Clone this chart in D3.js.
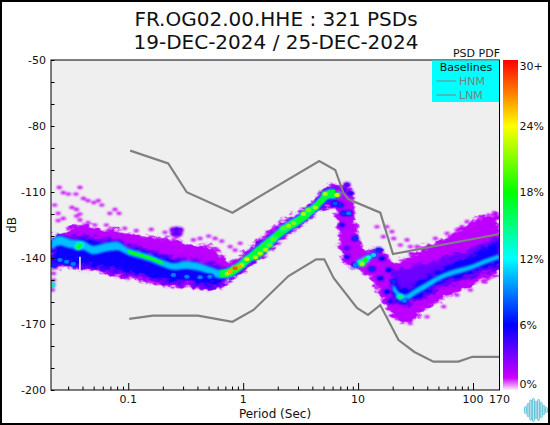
<!DOCTYPE html>
<html><head><meta charset="utf-8">
<style>html,body{margin:0;padding:0;background:#fff}svg{display:block}text{font-family:"DejaVu Sans",sans-serif;fill:#111}</style>
<script src="https://cdn.jsdelivr.net/npm/d3@7"></script></head><body><svg id="c" width="550" height="425"></svg>
<script>
const titleLines=["FR.OG02.00.HHE : 321 PSDs","19-DEC-2024 / 25-DEC-2024"];
const xTicks=[0.1,1,10,100,170];
const yLabelTicks=[-50,-80,-110,-140,-170,-200];
const barLabels=[["30+",29.5],["24%",24],["18%",18],["12%",12],["6%",6],["0%",0.6]];
const pctStops=[0,1.2,6,12,18,24,30];
const pctColors=["#ffffff","#cc00ff","#0000ff","#00ffff","#00ff00","#ffff00","#ff0000"];

const hnmPeriod=[0.104,0.223,0.323,0.807,4.59,6.33,7.48,8.26,15.6,20.1,170];
const hnmDb=[-91.2,-97,-110.1,-119.4,-95.9,-100,-110.6,-113.3,-119.4,-138.2,-129.1];
const lnmPeriod=[0.102,0.164,0.405,0.807,1.23,2.48,4.32,5.08,6.12,9.78,12.2,15.6,22.5,30.9,45.2,74.6,98.8,170];
const lnmDb=[-167.7,-166.2,-166.2,-169,-163.6,-148.2,-140.6,-140.6,-149.1,-162.7,-165.9,-161.4,-177.3,-182.7,-187.1,-187.1,-184.9,-184.9];

const logPeriod=[-1.67,-1.6,-1.5,-1.4,-1.3,-1.2,-1.1,-1,-0.9,-0.8,-0.7,-0.6,-0.5,-0.4,-0.3,-0.2,-0.1,0,0.1,0.2,0.3,0.4,0.5,0.6,0.7,0.75,0.8,0.85,0.9,0.95,1,1.1,1.2,1.3,1.4,1.5,1.6,1.7,1.8,1.9,2,2.1,2.23];
const purpleTop=[-131.1,-129.1,-126.1,-124.2,-125.8,-126.8,-127.3,-128.8,-129.8,-130.3,-130.8,-131.8,-133.6,-134.1,-134.1,-137.9,-141.7,-137.9,-133.6,-128.8,-125,-121.2,-117.9,-114.4,-108.3,-106.4,-106.8,-107.3,-106.1,-109.1,-130.3,-136.4,-135.2,-141.7,-140.2,-137.1,-134.1,-132.6,-129.5,-125.8,-123.5,-120.5,-119.7];
const purpleBottom=[-145.5,-144.8,-144.7,-145.2,-146.2,-147.3,-148.5,-149.2,-150.3,-151.8,-153,-153.3,-153,-154.2,-154.5,-154.2,-150,-146.7,-142.4,-137.9,-134.1,-129.5,-125.8,-121.2,-117.9,-117,-118.9,-136.4,-143.2,-144.7,-146.2,-148.5,-158.3,-166.7,-169.7,-167.4,-162.9,-159.8,-156.8,-154.5,-152.3,-150,-147];
const violetTop=[null,null,null,null,null,null,null,null,null,null,null,null,null,null,null,null,null,null,null,null,null,null,null,null,null,null,null,null,null,null,null,null,null,-145.5,-144.7,-143.2,-142.4,-140.9,-138.6,-137.1,-135.6,-133.3,-131.1];
const violetBottom=[null,null,null,null,null,null,null,null,null,null,null,null,null,null,null,null,null,null,null,null,null,null,null,null,null,null,null,null,null,null,null,null,null,-160,-161,-159.5,-157.5,-154,-152,-150.5,-148.5,-146.5,-144.5];
const blueTop=[-132.6,-130,-131.1,-130,-131.5,-131.8,-132.1,-134.1,-135.6,-137.1,-138.6,-140.2,-141.2,-141.7,-142.7,-144.7,-145.2,-140.9,-136.4,-131.8,-128,-123.9,-120.5,-116.7,-110.6,-108.8,-109.1,null,null,null,null,null,null,-147,-152.3,-150.8,-147,-144.7,-141.7,-139.7,-137.6,-134.1,-131.1];
const blueBottom=[-142.9,-143.2,-143.2,-143.9,-144.4,-145.5,-146.2,-147,-148.2,-149.2,-150.8,-151.2,-150.8,-152.3,-153.3,-152.3,-148.2,-144.7,-140.2,-135.6,-131.5,-127.3,-123.5,-119.4,-116.7,-115.2,-115.2,null,null,null,null,null,null,-159.8,-160.6,-159.1,-156.8,-153,-150.8,-149.2,-147.3,-145.5,-143.2];
const ridgeDb=[-134.1,-132.1,-133.6,-134.1,-136.4,-135.2,-134.5,-137.1,-138.6,-140.2,-142.4,-143.9,-143.2,-143.9,-145.5,-147.3,-146.2,-142.4,-137.9,-133.6,-129.5,-125.5,-122.4,-118.2,-112.9,-110.9,-110.9,null,null,null,null,null,null,-153,-158.3,-155.3,-152.3,-149.2,-147,-145.5,-143.9,-141.7,-139.4];
const cyanHalf=[2.2,2.2,2,2,2,2,2,1.6,1.6,1.6,1.6,1.6,1.8,1.8,1.8,2,2.4,2.4,2.4,2.4,2.4,2.4,2.4,2.4,2.4,2.4,2.4,null,null,null,null,null,null,1.5,1.5,1.4,1.4,1.2,1.2,1.2,1.1,1.1,1.1];
const greenHalf=[null,null,null,null,null,null,null,0.8,0.8,0.8,0.8,null,null,null,null,1.7,1.8,1.8,1.8,1.8,1.8,1.8,1.8,1.8,1.8,1.8,1.8,null,null,null,null,null,null,null,null,null,null,null,null,null,null,null,null];

// [log10 period, dB, percent]
const hotSpots=[[-1.42,-134.1,17],[-1.435,-135.2,16],[-1.594,-140.9,9],[-1.536,-141.7,9],[-1.478,-142.7,9],[-1.65,-143.2,7],[-1.667,-152.3,14],[-0.607,-147.7,9],[-0.49,-148.5,9],[-0.375,-148.8,9],[-0.29,-148.5,9],[-0.14,-147,22],[-0.113,-146.2,26],[-0.07,-144.7,28],[-0.032,-143.9,26],[-0.011,-143.2,22],[0.032,-140.6,23],[0.105,-139.7,22],[0.148,-137.9,22],[0.192,-136.1,22],[0.23,-134.1,20],[0.264,-131.5,20],[0.351,-126.5,20],[0.395,-125.5,22],[0.439,-124.2,21],[0.526,-120,22],[0.569,-118.2,21],[0.627,-117,22],[0.714,-110.9,22],[0.816,-111.4,23],
[0.903,-106.8,4],[0.932,-110.6,5],[0.874,-109.1,4],[0.845,-115.9,7],[0.8,-115.2,8],[0.918,-119.7,9],[0.874,-119.7,7],[0.86,-125,5],[0.976,-131.1,7],[0.903,-135.6,4],[0.903,-139.4,5],[0.976,-143.2,9],[1.034,-142.7,22],[1.063,-140.9,18],[1.019,-141.7,14],[1.092,-139.7,13],[1.135,-138.6,11],[1.179,-136.4,7],[1.121,-145,7],[1.194,-149.2,6],[1.208,-140.2,6],[1.266,-145.5,6],[1.31,-150.8,7],[1.252,-155.3,6],[1.28,-159.8,5],[1.368,-157.6,16],[1.403,-159.4,9],[-0.58,-127,4],[-0.58,-128.8,4],[-0.607,-127.3,3],[-0.55,-127.3,3],[-0.6,-129,3],[-0.56,-129,3]];
// [log10 period, dB]
const specks=[[-1.6,-107.9],[-1.42,-107.9],[-1.565,-110.3],[-1.52,-110.9],[-1.455,-110.9],[-1.39,-112.9],[-1.35,-113.9],[-1.3,-114.8],[-1.26,-113.9],[-1.23,-115.9],[-1.64,-115.9],[-1.49,-117],[-1.115,-117.9],[-1.45,-117.9],[-1.61,-119.7],[-1.42,-120],[-1.16,-119.7],[-1.08,-119.7],[-1.45,-120.9],[-1.565,-122],[-1.61,-123],[-1.42,-122.7],[-1.35,-123.9],[-1.29,-125],[-1.19,-125],[-1.03,-126.5],[-0.93,-127.6],[-0.8,-127],[-0.68,-128.3],[-0.58,-130.3],[-0.607,-131.8],[-0.58,-136.4],[-0.433,-131.8],[-0.375,-131.1],[-0.3,-130],[-0.244,-131.1],[-0.186,-132.3],[-0.113,-134.8],[-0.026,-133.3],[-0.23,-136.1],[-0.07,-136.4],[-1.65,-147],[-1.65,-150],[-1.66,-154.5],[1.164,-125.8],[1.25,-125.8],[1.295,-128],[1.22,-130.3],[1.31,-131.1],[1.426,-131.8],[1.368,-134.1],[1.455,-134.8],[1.513,-134.8],[1.673,-131.1],[1.774,-128.8],[1.832,-129.5],[1.905,-125.8],[1.948,-123.5],[2.007,-124.2],[2.065,-122],[2.137,-120.5],[2.195,-119.7],[1.861,-127.3],[1.977,-125.8],[2.094,-123.9],[1.339,-167.4],[1.455,-169.7],[1.6,-166.7],[1.745,-162.1],[1.861,-156.8],[1.977,-154.5],[2.094,-150.8],[2.137,-149.2]];
const notchLogP=[-1.42,-1.42];
const notchDb=[-139.4,-145.6];
const logoHeights=[7,13,20,23,17,21,15,9,5];

const svg=d3.select("#c");
const X0=51,X1=499.5,Y0=60,Y1=390;
const x=d3.scaleLog().domain([10**-1.672,170]).range([X0,X1]);
const y=d3.scaleLinear().domain([-50,-200]).range([Y0,Y1]);
const pctColor=d3.scaleLinear().domain(pctStops).range(pctColors);
const px=l=>x(10**l);

svg.append("rect").attr("x",1).attr("y",1).attr("width",548).attr("height",423).attr("fill","#fff").attr("stroke","#000").attr("stroke-width",2);
titleLines.forEach((t,i)=>svg.append("text").attr("x",276).attr("y",25.5+i*23).attr("text-anchor","middle").style("font-size","20px").text(t));

const defs=svg.append("defs");
defs.append("clipPath").attr("id","plot").append("rect").attr("x",X0).attr("y",Y0).attr("width",X1-X0).attr("height",Y1-Y0);
const blur=(id,s)=>defs.append("filter").attr("id",id).attr("x","-10%").attr("y","-10%").attr("width","120%").attr("height","120%").append("feGaussianBlur").attr("stdDeviation",s);
blur("b1",1.3);blur("b2",0.8);blur("b3",0.6);
const mottle=defs.append("filter").attr("id","mottle").attr("filterUnits","userSpaceOnUse").attr("x",X0-10).attr("y",Y0).attr("width",X1-X0+20).attr("height",Y1-Y0);
mottle.append("feTurbulence").attr("type","fractalNoise").attr("baseFrequency","0.13 0.2").attr("numOctaves",2).attr("seed",5).attr("result","n");
mottle.append("feDisplacementMap").attr("in","SourceGraphic").attr("in2","n").attr("scale",11).attr("xChannelSelector","R").attr("yChannelSelector","G");

svg.append("rect").attr("x",X0).attr("y",Y0).attr("width",X1-X0).attr("height",Y1-Y0).attr("fill","#efefef");
const plot=svg.append("g").attr("clip-path","url(#plot)");
const low=plot.append("g").attr("filter","url(#mottle)");
const idx=d3.range(logPeriod.length);
function band(parent,top,bot,pct,filter,stroke,sw){
  const a=d3.area().defined(i=>top(i)!=null&&bot(i)!=null).x(i=>px(logPeriod[i])).y0(i=>y(bot(i))).y1(i=>y(top(i))).curve(d3.curveMonotoneX);
  parent.append("path").attr("d",a(idx)).attr("fill",pctColor(pct)).attr("stroke",stroke||"none").attr("stroke-width",sw||0).attr("filter",`url(#${filter})`);
}
plot.append("g").attr("filter","url(#b2)").selectAll("ellipse").data(specks).join("ellipse").attr("cx",d=>px(d[0])).attr("cy",d=>y(d[1])).attr("rx",2.8).attr("ry",1.6).attr("fill",pctColor(1.3));
band(low,i=>purpleTop[i],i=>purpleBottom[i],1.6,"b1");
band(low,i=>violetTop[i],i=>violetBottom[i],3.4,"b1");
band(low,i=>blueTop[i],i=>blueBottom[i],5.6,"b1",pctColor(3.6),4);
band(plot,i=>ridgeDb[i]==null?null:ridgeDb[i]+cyanHalf[i],i=>ridgeDb[i]==null?null:ridgeDb[i]-cyanHalf[i],10.5,"b2");
band(plot,i=>greenHalf[i]==null?null:ridgeDb[i]+greenHalf[i],i=>greenHalf[i]==null?null:ridgeDb[i]-greenHalf[i],17,"b3");
plot.append("path").attr("d",d3.line().x(d=>px(d[0])).y(d=>y(d[1]))(notchLogP.map((l,i)=>[l,notchDb[i]]))).attr("stroke","#f4e6fb").attr("stroke-width",1.6).attr("fill","none");
const sorted=hotSpots.slice().sort((a,b)=>a[2]-b[2]);
plot.append("g").attr("filter","url(#b2)").selectAll("ellipse").data(sorted).join("ellipse").attr("cx",d=>px(d[0])).attr("cy",d=>y(d[1])).attr("rx",4).attr("ry",3).attr("fill",d=>pctColor(d[2]*0.72));
plot.append("g").attr("filter","url(#b3)").selectAll("ellipse").data(sorted).join("ellipse").attr("cx",d=>px(d[0])).attr("cy",d=>y(d[1])).attr("rx",2.6).attr("ry",2).attr("fill",d=>pctColor(d[2]));

const line=d3.line().x(d=>x(d[0])).y(d=>y(d[1]));
[[hnmPeriod,hnmDb],[lnmPeriod,lnmDb]].forEach(([p,v])=>plot.append("path").attr("d",line(p.map((q,i)=>[q,v[i]]))).attr("fill","none").attr("stroke","#808080").attr("stroke-width",2.2));

// axes: ticks point into the plot
const majors=[0.1,1,10,100];
const minors=d3.range(-2,3).flatMap(e=>d3.range(2,10).map(m=>m*10**e)).filter(p=>p>x.domain()[0]&&p<170);
const xg=svg.append("g").attr("transform",`translate(0,${Y1})`);
xg.call(d3.axisBottom(x).tickValues(majors).tickSize(-7).tickFormat("")).call(g=>g.select(".domain").remove());
xg.append("g").call(d3.axisBottom(x).tickValues(minors).tickSize(-3.5).tickFormat("")).call(g=>g.select(".domain").remove());
xTicks.forEach(t=>svg.append("text").attr("x",Math.min(x(t),X1)).attr("y",403).attr("text-anchor","middle").style("font-size","11px").text(t));
const yg=svg.append("g").attr("transform",`translate(${X0},0)`);
yg.call(d3.axisLeft(y).tickValues(d3.range(-200,-49,10)).tickSize(-3.5).tickFormat("")).call(g=>g.select(".domain").remove());
yLabelTicks.forEach(t=>svg.append("text").attr("x",46).attr("y",y(t)+4).attr("text-anchor","end").style("font-size","11px").text(t));
svg.append("rect").attr("x",X0).attr("y",Y0).attr("width",X1-X0).attr("height",Y1-Y0).attr("fill","none").attr("stroke","#000");

// legend
svg.append("rect").attr("x",432).attr("y",60.5).attr("width",67).attr("height",41.5).attr("fill","#00ffff");
svg.append("rect").attr("x",X1-0.5).attr("y",Y0).attr("width",1).attr("height",42).attr("fill","#000");
svg.append("text").attr("x",466).attr("y",71).attr("text-anchor","middle").style("font-size","11px").text("Baselines");
["HNM","LNM"].forEach((n,i)=>{
  const yy=81+i*14;
  svg.append("line").attr("x1",436.5).attr("x2",456).attr("y1",yy).attr("y2",yy).attr("stroke","#808080");
  svg.append("text").attr("x",459).attr("y",yy+4).style("font-size","11px").style("fill","#808080").text(n);
});
svg.append("text").attr("x",500).attr("y",57).attr("text-anchor","end").style("font-size","11px").text("PSD PDF");

// colour bar
const barY=d3.scaleLinear().domain([0,30]).range([391,60]);
svg.append("g").selectAll("rect").data(d3.range(60,390)).join("rect").attr("x",503).attr("width",15).attr("y",d=>d).attr("height",1).attr("fill",d=>pctColor(barY.invert(d+0.5)));
barLabels.forEach(([t,p])=>svg.append("text").attr("x",519.5).attr("y",barY(p)+4).style("font-size","11px").text(t));

// axis titles
svg.append("text").attr("x",275).attr("y",418).attr("text-anchor","middle").style("font-size","12px").text("Period (Sec)");
svg.append("text").attr("transform","translate(16,225) rotate(-90)").attr("text-anchor","middle").style("font-size","12px").text("dB");

// logo
const lx=d3.scaleBand().domain(d3.range(logoHeights.length)).range([524,548]).padding(0.2);
svg.append("g").selectAll("rect").data(logoHeights).join("rect").attr("x",(d,i)=>lx(i)).attr("width",lx.bandwidth()).attr("y",d=>410-d/2).attr("height",d=>d).attr("rx",1).attr("fill","#c5e9f2").attr("stroke","#4bb9d6").attr("stroke-width",0.8);
</script></body></html>
